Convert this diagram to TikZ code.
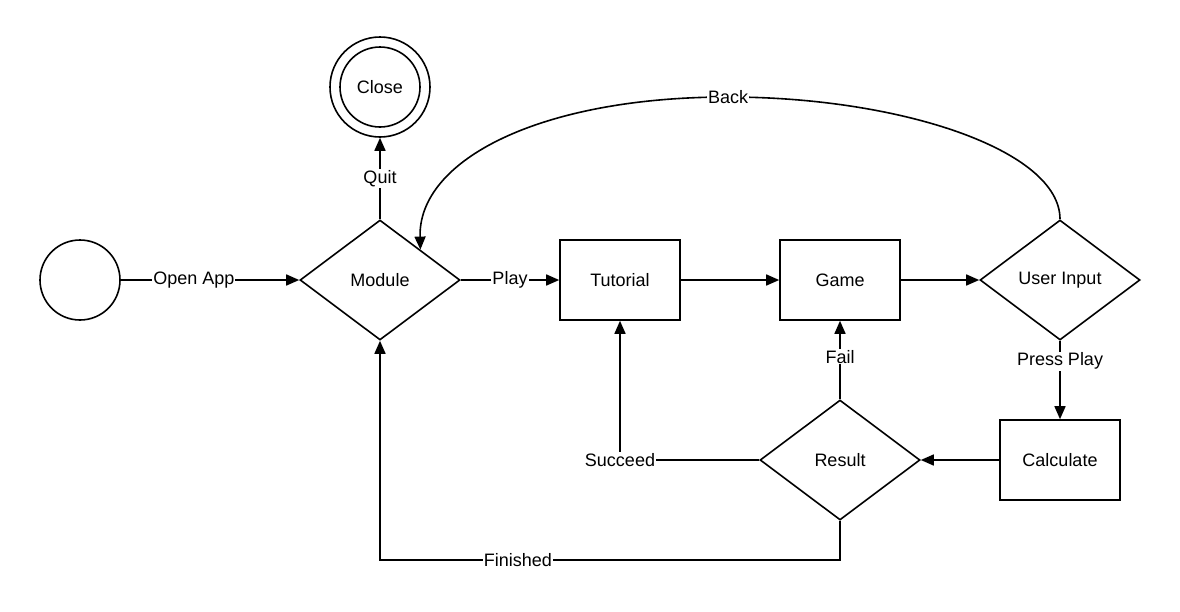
\documentclass[tikz,border=0pt]{standalone}
\usepackage{fontspec}
\setmainfont{Liberation Sans}
\usetikzlibrary{shapes.geometric,arrows.meta}
\begin{document}
\begin{tikzpicture}[x=1pt,y=-1pt,
  every node/.style={font=\fontsize{18}{21}\selectfont},
  ln/.style={line width=1.6pt},
  arr/.style={ln,-{Triangle[length=13pt,width=11pt]}},
  box/.style={draw,ln,minimum width=120pt,minimum height=80pt,inner sep=0pt},
  dia/.style={draw,ln,diamond,minimum width=160pt,minimum height=120pt,inner sep=0pt},
  circ/.style={draw,ln,circle,inner sep=0pt},
  lbl/.style={fill=white,inner sep=1pt}]
\useasboundingbox (0,0) rectangle (1180,611);
\node[circ,minimum size=80pt] (start) at (80,280) {};
\node[circ,minimum size=80pt] (close) at (380,87) {Close};
\node[circ,minimum size=100pt] (closeo) at (380,87) {};
\node[dia] (mod) at (380,280) {Module};
\node[box] (tut) at (620,280) {Tutorial};
\node[box] (game) at (840,280) {Game};
\node[dia] (ui) at (1060,280) {User Input};
\node[box] (calc) at (1060,460) {Calculate};
\node[dia] (res) at (840,460) {Result};
\coordinate (backtop) at (728,97);
\coordinate (fin) at (840,560);

\draw[arr] (start.east) -- node[lbl,pos=0.41] {Open App} (mod.west);
\draw[arr] (mod.north) -- node[lbl] {Quit} (closeo.south);
\draw[arr] (mod.east) -- node[lbl] {Play} (tut.west);
\draw[arr] (tut.east) -- (game.west);
\draw[arr] (game.east) -- (ui.west);
\draw[arr] (ui.south) -- node[lbl,pos=0.26] {Press Play} (calc.north);
\draw[arr] (calc.west) -- (res.east);
\draw[arr] (res.north) -- node[lbl,pos=0.54] {Fail} (game.south);
\draw[arr] (res.west) -| node[lbl,pos=0.5] {Succeed} (tut.south);
\draw[arr] (res.south) -- (fin) -| node[lbl,pos=0.35] {Finished} (mod.south);
\draw[arr] (ui.north) .. controls (1060,150) and (900,97) .. (backtop)
  .. controls (540,97) and (418,160) .. (mod.north east);
\node[lbl] at (backtop) {Back};
\end{tikzpicture}
\end{document}
